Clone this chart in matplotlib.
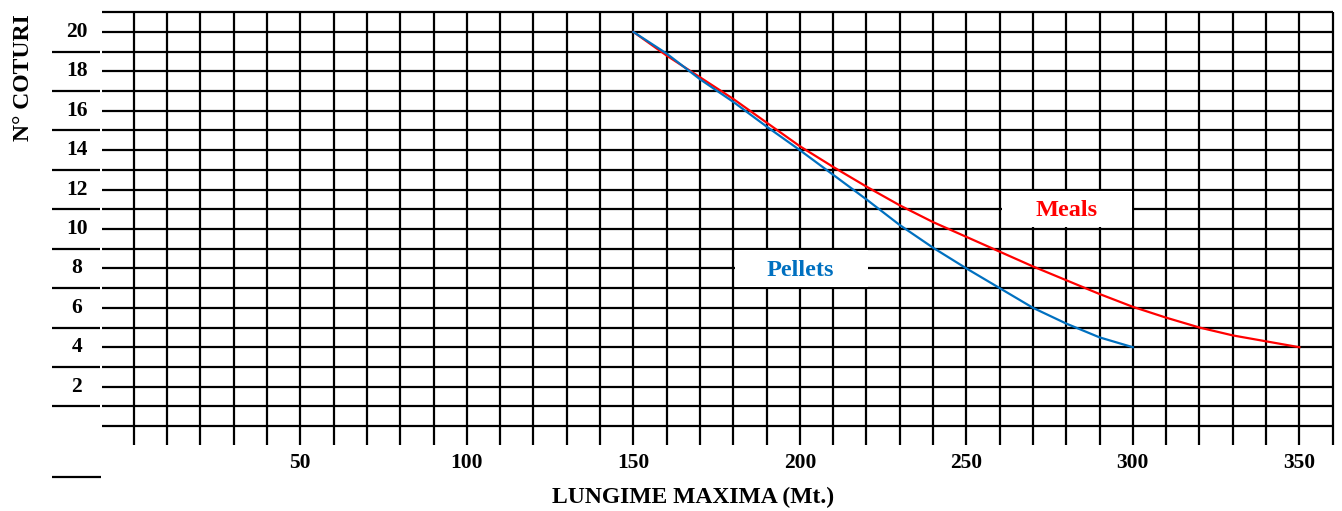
import numpy as np
import matplotlib.pyplot as plt

# curves (x = lunghezza, y = n. coturi)
meals_x = [150, 160, 170, 180, 190, 200, 210, 220, 230, 240, 250, 260, 270, 280, 290, 300, 310, 320, 330, 340, 350]
meals_y = [20.0, 18.8, 17.7, 16.6, 15.4, 14.2, 13.15, 12.15, 11.2, 10.35, 9.6, 8.85, 8.1, 7.4, 6.7, 6.05, 5.5, 5.0, 4.6, 4.3, 4.0]
pellets_x = [150, 160, 170, 180, 190, 200, 210, 220, 230, 240, 250, 260, 270, 280, 290, 300]
pellets_y = [20.0, 18.9, 17.6, 16.45, 15.2, 14.0, 12.75, 11.5, 10.2, 9.05, 8.0, 7.0, 6.0, 5.2, 4.5, 4.0]

xticks = [50, 100, 150, 200, 250, 300, 350]
yticks = [2, 4, 6, 8, 10, 12, 14, 16, 18, 20]

BLUE = '#0070C0'
RED = '#FF0000'

plt.rcParams['font.family'] = ['Liberation Serif', 'DejaVu Serif']

fig = plt.figure(figsize=(13.42, 5.11), dpi=100)
ax = fig.add_axes([0, 0, 1, 1])
ax.set_xlim(-40.2, 362.8)
ax.set_ylim(-4.31, 21.62)
ax.axis('off')

lw = 1.6
# horizontal grid
for v in range(0, 22):
    ax.plot([-9.6, 360], [v, v], color='k', lw=lw, zorder=1, solid_capstyle='butt')
    if v % 2 == 1 and v < 21:
        ax.plot([-24.6, -10.3], [v, v], color='k', lw=lw, zorder=1, solid_capstyle='butt')
ax.plot([-24.6, -9.8], [-2.6, -2.6], color='k', lw=lw, zorder=1, solid_capstyle='butt')
# vertical grid
for v in range(0, 361, 10):
    ax.plot([v, v], [-0.96, 21], color='k', lw=lw, zorder=1, solid_capstyle='butt')

for t in yticks:
    ax.text(-17.1, t, str(t), ha='center', va='center', fontsize=15.5, fontweight='bold')
for t in xticks:
    ax.text(t, -1.85, str(t), ha='center', va='center', fontsize=15.5, fontweight='bold')

ax.text(-33.2, 17.7, 'N° COTURI', rotation=90, ha='center', va='center', fontsize=17, fontweight='bold')
ax.text(167.9, -3.6, 'LUNGIME MAXIMA (Mt.)', ha='center', va='center', fontsize=17, fontweight='bold')

ax.plot(meals_x, meals_y, color=RED, lw=1.6, zorder=3)
ax.plot(pellets_x, pellets_y, color=BLUE, lw=1.6, zorder=3)

# white label boxes
ax.fill_between([180.6, 220.4], 7.05, 8.93, color='white', zorder=2, lw=0)
ax.fill_between([260.6, 299.6], 10.1, 11.95, color='white', zorder=2, lw=0)
ax.text(200, 7.9, 'Pellets', color=BLUE, ha='center', va='center', fontsize=17.5, fontweight='bold', zorder=4)
ax.text(280, 10.95, 'Meals', color=RED, ha='center', va='center', fontsize=17.5, fontweight='bold', zorder=4)

fig.savefig('out.png', dpi=100)
